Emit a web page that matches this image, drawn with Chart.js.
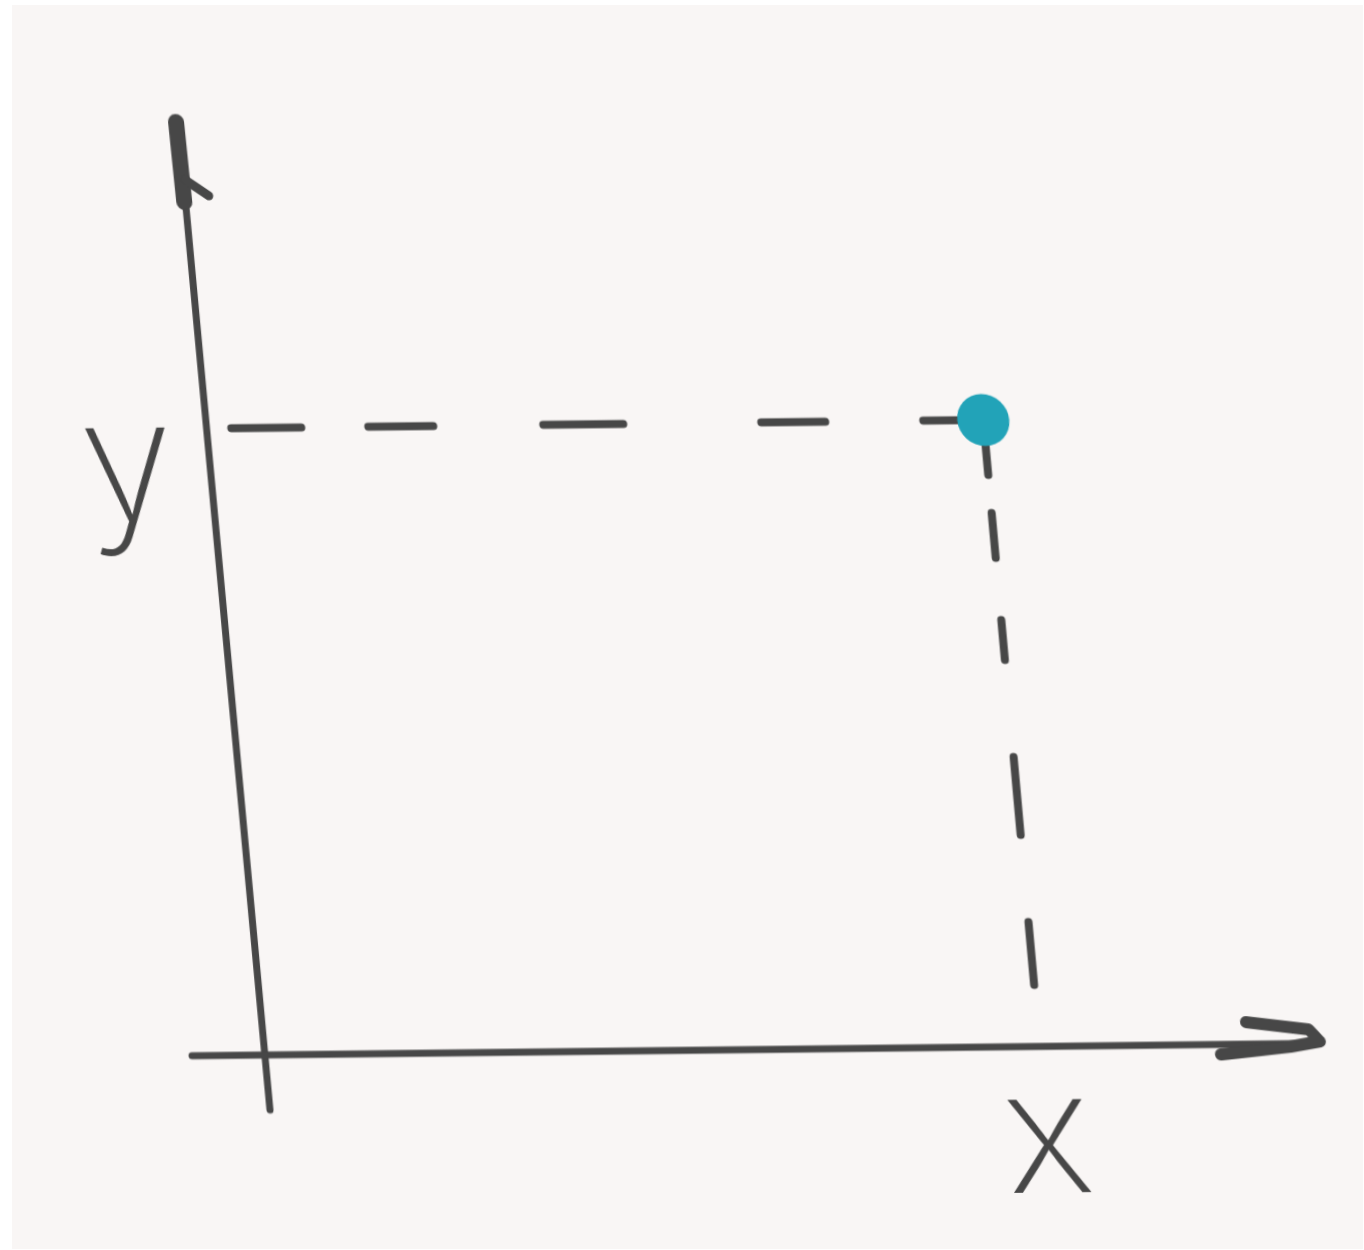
<!DOCTYPE html>
<html>
<head>
<meta charset="utf-8">
<title>x / y</title>
<script src="https://cdn.jsdelivr.net/npm/chart.js@4/dist/chart.umd.min.js"></script>
<style>
  html, body { margin: 0; padding: 0; background: #ffffff; }
  .paper { position: absolute; left: 12px; top: 5px; right: 1px; bottom: 1px; background: #f9f6f5; }
  .wrap { position: absolute; left: 0; top: 0; width: 1364px; height: 1250px; overflow: hidden; }
  #sketch {
    position: absolute; left: 0; top: 0;
    /* hand drawn lean */
    transform-origin: 262px 1055px;
    transform: matrix(1, -0.011, 0.09, 1, 0, 0);
  }
</style>
</head>
<body>
<div class="wrap">
  <div class="paper"></div>
  <canvas id="sketch" width="1364" height="1250"></canvas>
</div>
<script>
// data
var xRange = [0, 10];
var yRange = [0, 10];
var pointX = 7.35;
var pointY = 6.7;
var tickLabelX = 'x';
var tickLabelY = 'y';

var ink = '#474747';
var teal = '#22a3b8';

// axes + arrowheads, drawn on the scale edges
var sketchAxes = {
  id: 'sketchAxes',
  beforeDatasetsDraw: function(chart) {
    var a = chart.chartArea, c = chart.ctx;
    c.save();
    c.strokeStyle = ink;
    c.lineCap = 'round';
    c.lineJoin = 'round';

    // y axis
    c.lineWidth = 7;
    c.beginPath();
    c.moveTo(a.left + 3, a.bottom + 55);
    c.lineTo(a.left, a.top);
    c.stroke();
    c.lineWidth = 16;
    c.beginPath();
    c.moveTo(a.left - 2, a.top + 2);
    c.lineTo(a.left - 1, a.top + 82);
    c.stroke();
    c.lineWidth = 9;
    c.beginPath();
    c.moveTo(a.left + 2, a.top + 60);
    c.lineTo(a.left + 24, a.top + 76);
    c.stroke();

    // x axis
    c.lineWidth = 7;
    c.beginPath();
    c.moveTo(a.left - 70, a.bottom);
    c.lineTo(a.right, a.bottom);
    c.stroke();
    c.lineWidth = 12;
    c.beginPath();
    c.moveTo(a.right - 72, a.bottom - 22);
    c.lineTo(a.right - 10, a.bottom - 14);
    c.lineTo(a.right, a.bottom - 2);
    c.moveTo(a.right - 100, a.bottom + 10);
    c.lineTo(a.right - 30, a.bottom + 3);
    c.lineTo(a.right, a.bottom - 2);
    c.stroke();
    c.restore();
  }
};

function noPad(axis) {
  axis.paddingTop = 0;
  axis.paddingBottom = 0;
  axis.paddingLeft = 0;
  axis.paddingRight = 0;
}

new Chart(document.getElementById('sketch'), {
  type: 'scatter',
  data: {
    datasets: [
      {
        label: 'point',
        data: [{ x: pointX, y: pointY }],
        backgroundColor: teal,
        borderWidth: 0,
        pointRadius: 26,
        order: 0
      },
      {
        type: 'line',
        label: 'to y',
        data: [{ x: pointX, y: pointY }, { x: xRange[0], y: pointY }],
        borderColor: ink,
        borderWidth: 8,
        borderCapStyle: 'round',
        borderDash: [60, 98, 64, 138, 80, 110, 65, 67, 70, 200],
        pointRadius: 0,
        fill: false,
        order: 1
      },
      {
        type: 'line',
        label: 'to x',
        data: [{ x: pointX, y: pointY }, { x: pointX, y: yRange[0] }],
        borderColor: ink,
        borderWidth: 8,
        borderCapStyle: 'round',
        borderDash: [55, 38, 45, 62, 40, 97, 78, 87, 63, 200],
        pointRadius: 0,
        fill: false,
        order: 2
      }
    ]
  },
  options: {
    responsive: false,
    animation: false,
    layout: { padding: { left: 0, top: 120, right: 44, bottom: 0 } },
    plugins: { legend: { display: false }, tooltip: { enabled: false } },
    scales: {
      x: {
        type: 'linear', min: xRange[0], max: xRange[1],
        grid: { display: false, drawTicks: false, tickLength: 0 },
        border: { display: false },
        afterBuildTicks: function(axis) { axis.ticks = [{ value: pointX }]; },
        afterFit: function(axis) { axis.height = 195; noPad(axis); },
        ticks: {
          padding: 10,
          color: ink,
          font: { family: 'Inter', size: 170, weight: 200, lineHeight: 1 },
          callback: function() { return tickLabelX; }
        }
      },
      y: {
        type: 'linear', min: yRange[0], max: yRange[1],
        grid: { display: false, drawTicks: false, tickLength: 0 },
        border: { display: false },
        afterBuildTicks: function(axis) { axis.ticks = [{ value: pointY }]; },
        afterFit: function(axis) { axis.width = 262; noPad(axis); },
        ticks: {
          padding: 34,
          labelOffset: 40,
          color: ink,
          font: { family: 'Inter', size: 170, weight: 200 },
          callback: function() { return tickLabelY; }
        }
      }
    }
  },
  plugins: [sketchAxes]
});
</script>
</body>
</html>
